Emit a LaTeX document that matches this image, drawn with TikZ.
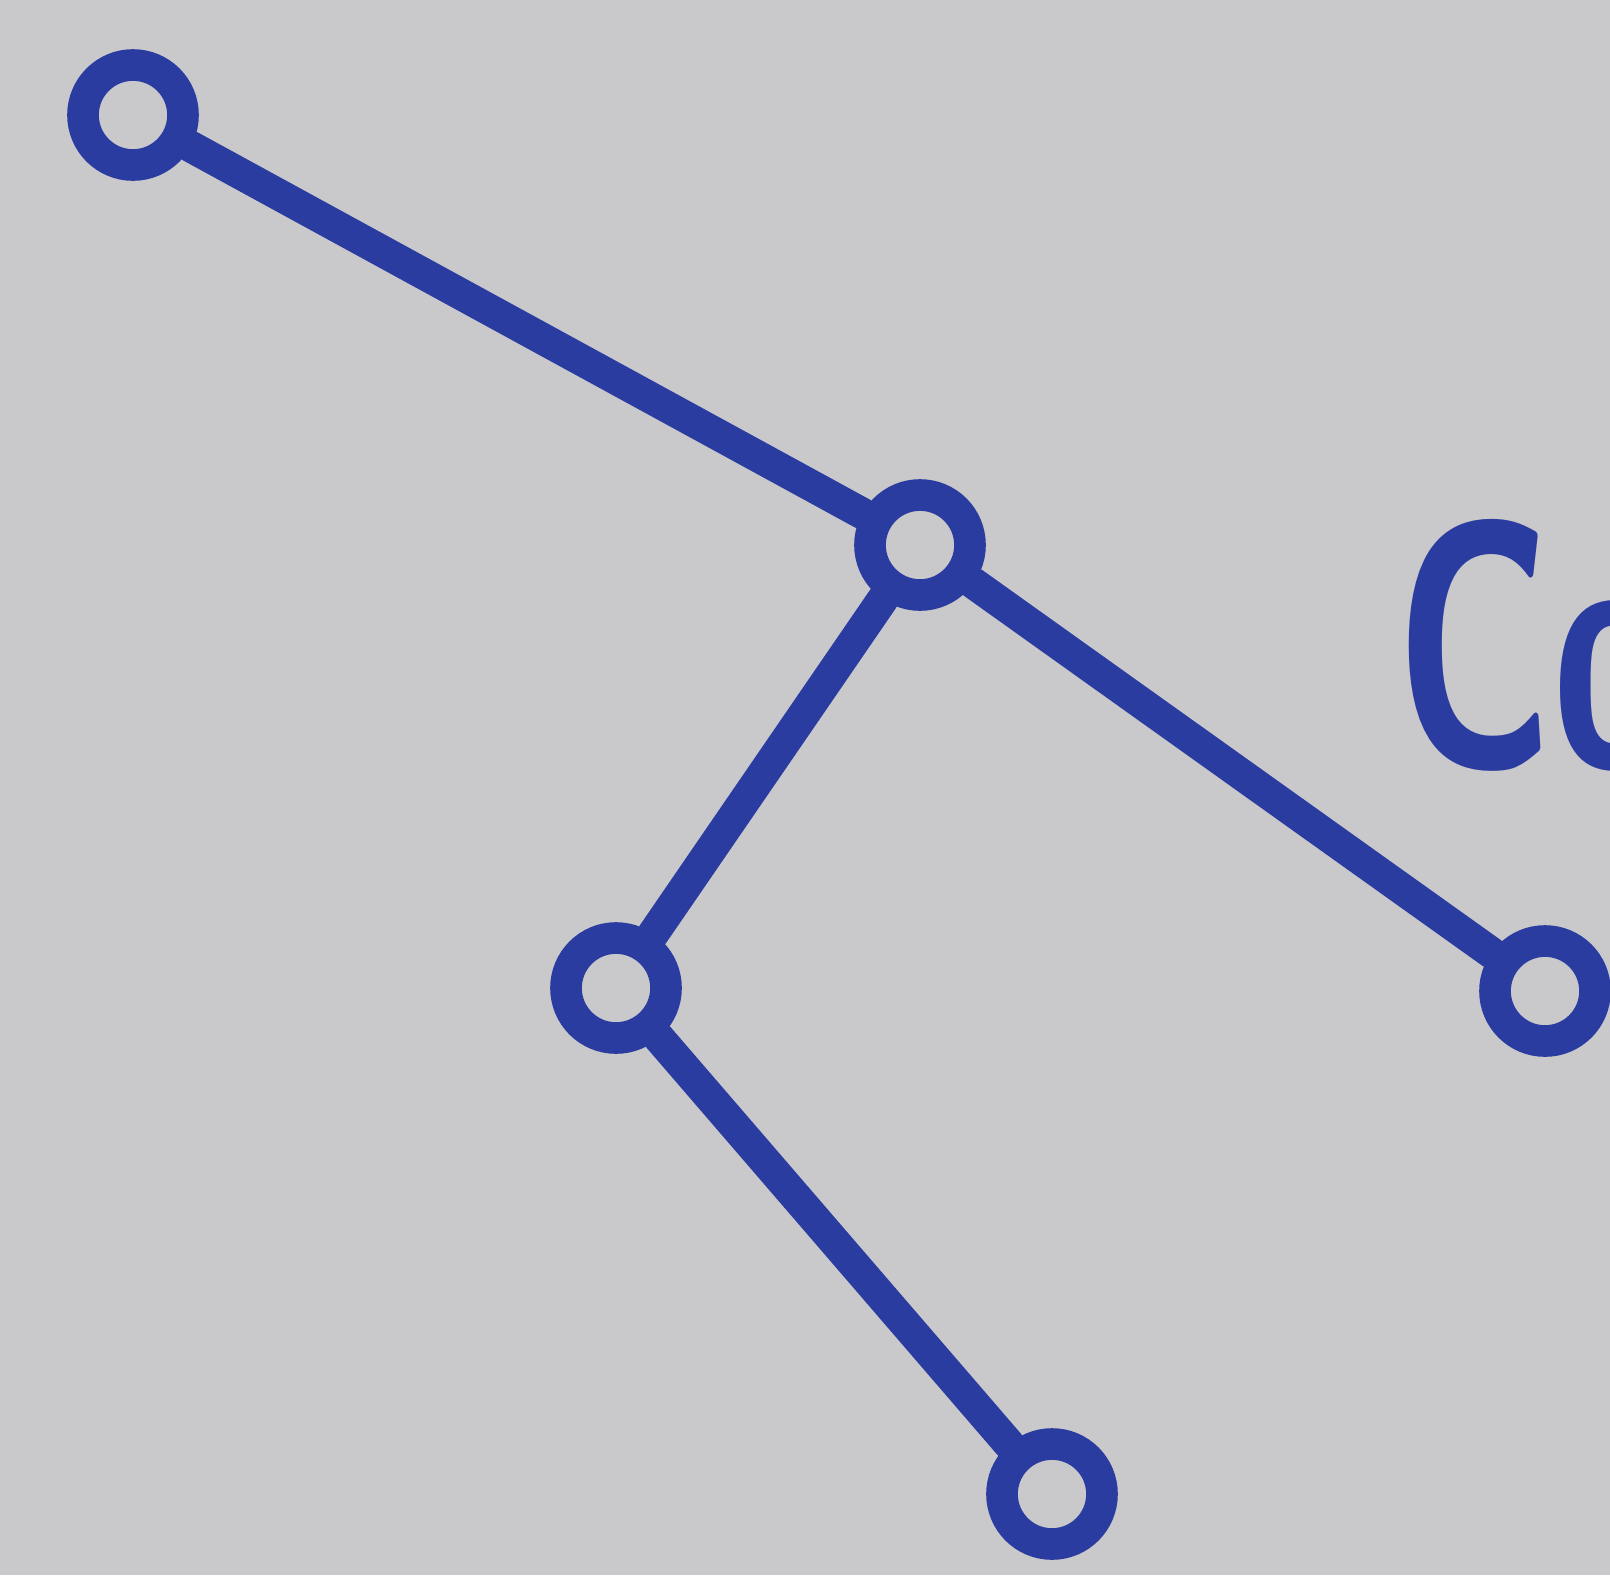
\documentclass[tikz,border=0pt]{standalone}
\usepackage{tikz}
\usetikzlibrary{positioning}

\definecolor{marker}{RGB}{42,60,160}
\definecolor{paper}{RGB}{201,200,203}

\begin{document}
\begin{tikzpicture}[
    x=1cm, y=-1cm,
    vertex/.style={draw=marker, circle, line width=9pt, minimum size=1.0cm, inner sep=0pt},
    edge/.style={draw=marker, line width=9pt, line cap=round},
    scrawl/.style={text=marker, font=\sffamily\bfseries\fontsize{100}{100}\selectfont, anchor=west, inner sep=0pt}
]
\fill[paper] (0,0) rectangle (16.10,15.75);
\useasboundingbox (0,0) rectangle (16.10,15.75);
\clip (0,0) rectangle (16.10,15.75);
\node[vertex] (root) at (1.33,1.15) {};
\node[vertex] (mid) at (9.20,5.45) {};
\node[vertex] (left) at (6.16,9.88) {};
\node[vertex] (leaf) at (10.52,14.94) {};
\node[vertex] (right) at (15.45,9.91) {};
\node[scrawl] (word) at (13.95,6.45) {\scalebox{0.64}[1]{Co}};
\draw[edge] (root) -- (mid);
\draw[edge] (mid) -- (left);
\draw[edge] (mid) -- (right);
\draw[edge] (left) -- (leaf);
\end{tikzpicture}
\end{document}
